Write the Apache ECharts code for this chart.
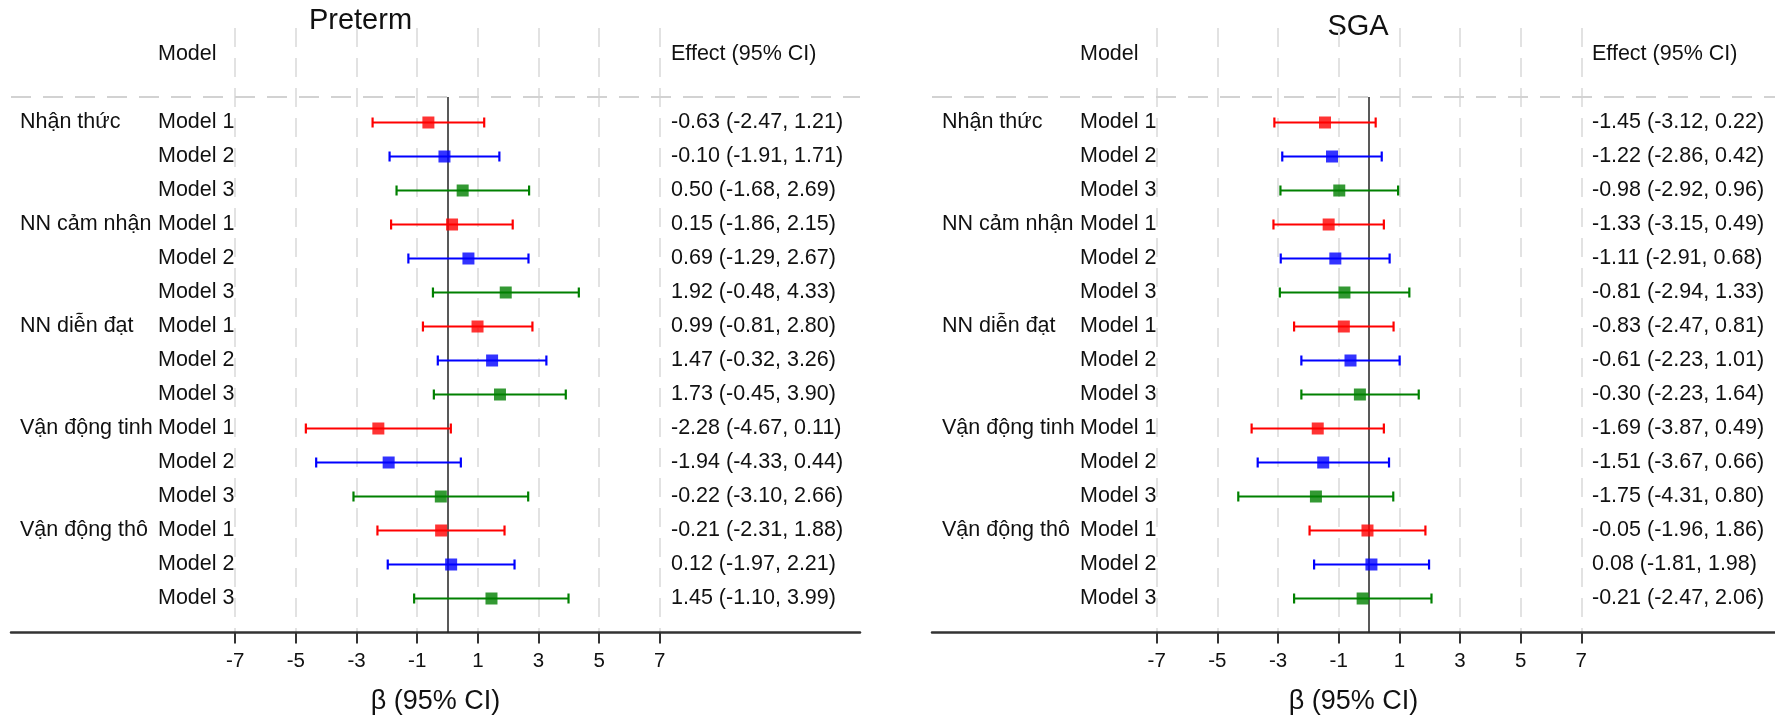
<!DOCTYPE html>
<html>
<head>
<meta charset="utf-8">
<script src="https://cdn.jsdelivr.net/npm/echarts@6/dist/echarts.min.js"></script>
<style>
  html, body { margin: 0; padding: 0; background: #ffffff; }
  #chart { width: 1775px; height: 720px; }
</style>
</head>
<body>
<div id="chart"></div>
<script>
// ---- Data -----------------------------------------------------------------
const groups = ['Nhận thức', 'NN cảm nhận', 'NN diễn đạt', 'Vận động tinh', 'Vận động thô'];
const models = ['Model 1', 'Model 2', 'Model 3'];
const panelTitles = ['Preterm', 'SGA'];
const xTicks = [-7, -5, -3, -1, 1, 3, 5, 7];
const axisTitle = 'β (95% CI)';
const headerModel = 'Model';
const headerEffect = 'Effect (95% CI)';

// Preterm: estimate, lower and upper 95% CI, rows ordered group by group, Model 1..3
const pretermEst  = [-0.63, -0.10, 0.50,  0.15,  0.69, 1.92,  0.99,  1.47,  1.73, -2.28, -1.94, -0.22, -0.21,  0.12,  1.45];
const pretermLow  = [-2.47, -1.91, -1.68, -1.86, -1.29, -0.48, -0.81, -0.32, -0.45, -4.67, -4.33, -3.10, -2.31, -1.97, -1.10];
const pretermHigh = [ 1.21,  1.71,  2.69,  2.15,  2.67,  4.33,  2.80,  3.26,  3.90,  0.11,  0.44,  2.66,  1.88,  2.21,  3.99];

// SGA
const sgaEst  = [-1.45, -1.22, -0.98, -1.33, -1.11, -0.81, -0.83, -0.61, -0.30, -1.69, -1.51, -1.75, -0.05,  0.08, -0.21];
const sgaLow  = [-3.12, -2.86, -2.92, -3.15, -2.91, -2.94, -2.47, -2.23, -2.23, -3.87, -3.67, -4.31, -1.96, -1.81, -2.47];
const sgaHigh = [ 0.22,  0.42,  0.96,  0.49,  0.68,  1.33,  0.81,  1.01,  1.64,  0.49,  0.66,  0.80,  1.86,  1.98,  2.06];

// ---- Styling & layout -----------------------------------------------------
const modelColors = ['#ff0000', '#0000ff', '#008000'];
const FONT = '"Liberation Sans", Arial, Helvetica, sans-serif';
const TEXT_COLOR = '#111111';

const PX_PER_UNIT = 30.33;   // horizontal scale of the effect axis
const GRID_TOP = 28;
const AXIS_Y = 632.5;
const ROW0_Y = 122.5;
const ROW_H = 34;
const yMin = (GRID_TOP - ROW0_Y) / ROW_H;
const yMax = (AXIS_Y - ROW0_Y) / ROW_H;
const HEADER_ROW = -2;
const RULE_ROW = (97 - ROW0_Y) / ROW_H;
const TICK_LABEL_GAP = 29;   // axis line to middle of tick label text

const panelLayout = [
  { left: 11,  right: 860,  zero: 447.5, titleX: 360.5, titleY: 20.5, colGroup: 20,  colModel: 158,  colEffect: 671 },
  { left: 932, right: 1775, zero: 1369,  titleX: 1358,  titleY: 27,   colGroup: 942, colModel: 1080, colEffect: 1592 }
];

const panelData = [
  { est: pretermEst, low: pretermLow, high: pretermHigh },
  { est: sgaEst,     low: sgaLow,     high: sgaHigh }
];

const fmt = v => v.toFixed(2);

const grids = [], xAxes = [], yAxes = [], series = [], graphics = [];

panelLayout.forEach((L, p) => {
  const D = panelData[p];
  const toX = px => (px - L.zero) / PX_PER_UNIT;

  grids.push({
    left: L.left, width: L.right - L.left, top: GRID_TOP, height: AXIS_Y - GRID_TOP,
    containLabel: false, outerBoundsMode: 'none'
  });

  xAxes.push({
    type: 'value', gridIndex: p,
    min: toX(L.left), max: toX(L.right),
    axisLine: { show: true, onZero: false, lineStyle: { color: '#333333', width: 2.5 } },
    axisTick: { show: true, customValues: xTicks, length: 11, inside: false,
                lineStyle: { color: '#333333', width: 2 } },
    axisLabel: { show: false, customValues: xTicks },
    splitLine: { show: true, lineStyle: { color: '#e2e2e2', width: 2, type: [19, 11] } },
    name: axisTitle, nameLocation: 'middle', nameGap: 56,
    nameTextStyle: { fontSize: 27, color: TEXT_COLOR, fontFamily: FONT }
  });

  yAxes.push({
    type: 'value', gridIndex: p, inverse: true, min: yMin, max: yMax, show: false
  });

  // Tick labels under the axis line
  series.push({
    type: 'custom', name: 'ticks-' + p, xAxisIndex: p, yAxisIndex: p,
    silent: true, clip: false, z: 5,
    data: xTicks.map(v => [v, yMax]),
    renderItem: (params, api) => {
      const pt = api.coord([api.value(0), api.value(1)]);
      return {
        type: 'text', x: pt[0], y: pt[1] + TICK_LABEL_GAP,
        style: {
          text: String(xTicks[params.dataIndex]), fill: TEXT_COLOR,
          fontSize: 20.5, fontFamily: FONT, align: 'center', verticalAlign: 'middle'
        }
      };
    }
  });

  // Text columns: header, group names, model names, effect strings
  const texts = [];
  texts.push({ x: toX(L.colModel), y: HEADER_ROW, text: headerModel });
  texts.push({ x: toX(L.colEffect), y: HEADER_ROW, text: headerEffect });
  D.est.forEach((e, r) => {
    const g = Math.floor(r / models.length), m = r % models.length;
    if (m === 0) texts.push({ x: toX(L.colGroup), y: r, text: groups[g] });
    texts.push({ x: toX(L.colModel), y: r, text: models[m] });
    texts.push({ x: toX(L.colEffect), y: r,
                 text: fmt(e) + ' (' + fmt(D.low[r]) + ', ' + fmt(D.high[r]) + ')' });
  });

  series.push({
    type: 'custom', name: 'labels-' + p, xAxisIndex: p, yAxisIndex: p,
    silent: true, clip: false, z: 5,
    data: texts.map(t => [t.x, t.y]),
    renderItem: (params, api) => {
      const pt = api.coord([api.value(0), api.value(1)]);
      return {
        type: 'text', x: pt[0], y: pt[1],
        style: {
          text: texts[params.dataIndex].text, fill: TEXT_COLOR,
          fontSize: 21.5, fontFamily: FONT,
          align: 'left', verticalAlign: 'middle'
        }
      };
    }
  });

  // Confidence interval whiskers with end caps
  series.push({
    type: 'custom', name: 'ci-' + p, xAxisIndex: p, yAxisIndex: p,
    silent: true, z: 3,
    data: D.est.map((e, r) => [D.low[r], D.high[r], r]),
    renderItem: (params, api) => {
      const row = api.value(2);
      const a = api.coord([api.value(0), row]);
      const b = api.coord([api.value(1), row]);
      const color = modelColors[params.dataIndex % models.length];
      const cap = 5;
      const st = { stroke: color, lineWidth: 2.2 };
      return {
        type: 'group',
        children: [
          { type: 'line', shape: { x1: a[0], y1: a[1], x2: b[0], y2: b[1] }, style: st },
          { type: 'line', shape: { x1: a[0], y1: a[1] - cap, x2: a[0], y2: a[1] + cap }, style: st },
          { type: 'line', shape: { x1: b[0], y1: b[1] - cap, x2: b[0], y2: b[1] + cap }, style: st }
        ]
      };
    }
  });

  // Point estimates, plus the header rule and the zero reference line
  series.push({
    type: 'scatter', name: 'est-' + p, xAxisIndex: p, yAxisIndex: p,
    silent: true, z: 4,
    symbol: 'rect', symbolSize: 12,
    data: D.est.map((e, r) => ({ value: [e, r],
      itemStyle: { color: modelColors[r % models.length] } })),
    markLine: {
      silent: true, symbol: 'none', z: 1, animation: false,
      label: { show: false },
      data: [
        { yAxis: RULE_ROW, lineStyle: { color: '#d2d2d2', width: 2, type: [20, 12] } },
        [ { coord: [0, RULE_ROW], lineStyle: { color: '#222222', width: 1.5, type: 'solid' } },
          { coord: [0, yMax] } ]
      ]
    }
  });

  graphics.push({
    type: 'text', x: L.titleX, y: L.titleY, silent: true,
    style: { text: panelTitles[p], fill: TEXT_COLOR, fontSize: 29, fontFamily: FONT,
             align: 'center', verticalAlign: 'middle' }
  });
});

const chart = echarts.init(document.getElementById('chart'), null, { renderer: 'canvas' });
chart.setOption({
  backgroundColor: '#ffffff',
  animation: false,
  textStyle: { fontFamily: FONT },
  grid: grids,
  xAxis: xAxes,
  yAxis: yAxes,
  series: series,
  graphic: graphics
});
</script>
</body>
</html>
